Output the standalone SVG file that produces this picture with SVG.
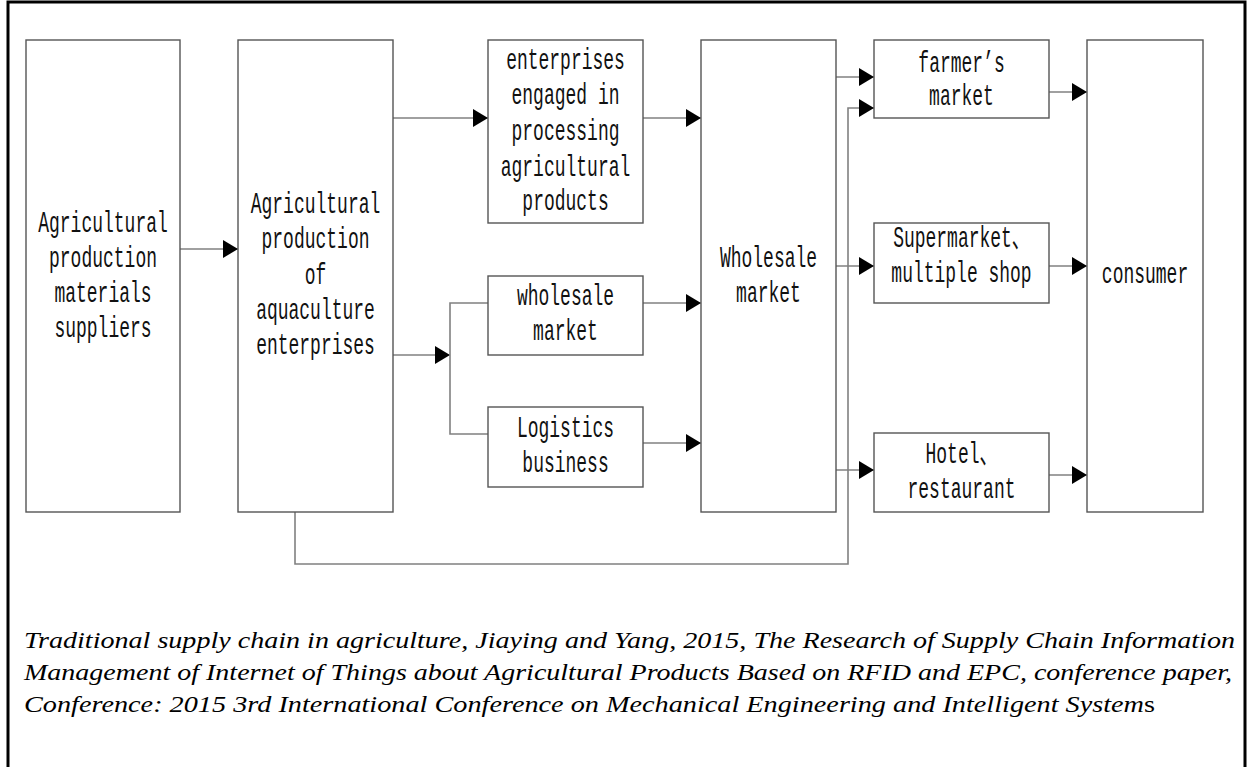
<svg xmlns="http://www.w3.org/2000/svg" width="1252" height="767" viewBox="0 0 1252 767">
<defs>
<marker id="ah" markerUnits="userSpaceOnUse" markerWidth="16" markerHeight="19" refX="15" refY="9" orient="auto">
<path d="M0,0 L15,9 L0,18 Z" fill="#000"/>
</marker>
<style>
.box{fill:#fff;stroke:#555;stroke-width:1.4}
.c{fill:none;stroke:#808080;stroke-width:1.6}
.a{marker-end:url(#ah)}
.t{font-family:"Liberation Mono","Noto Sans CJK SC",monospace;font-size:30px;fill:#111;text-anchor:middle}
.cap{font-family:"Liberation Serif","Times New Roman",serif;font-style:italic;font-size:23px;fill:#000}
</style>
</defs>
<rect width="1252" height="767" fill="#fff"/>
<path d="M8,767 V2 H1245 V767" fill="none" stroke="#000" stroke-width="3"/>

<g id="connectors">
<line class="c a" x1="180" y1="249" x2="238" y2="249"/>
<line class="c a" x1="393" y1="118" x2="488" y2="118"/>
<line class="c a" x1="643" y1="118" x2="701" y2="118"/>
<line class="c a" x1="393" y1="355" x2="450" y2="355"/>
<path class="c" d="M488,303 H450 V434 H488"/>
<line class="c a" x1="643" y1="303" x2="701" y2="303"/>
<line class="c a" x1="643" y1="443" x2="701" y2="443"/>
<line class="c a" x1="836" y1="77" x2="874" y2="77"/>
<path class="c a" d="M295,512 V564 H848 V108 H874"/>
<line class="c a" x1="836" y1="266" x2="874" y2="266"/>
<line class="c a" x1="836" y1="470" x2="874" y2="470"/>
<line class="c a" x1="1049" y1="92" x2="1087" y2="92"/>
<line class="c a" x1="1049" y1="266" x2="1087" y2="266"/>
<line class="c a" x1="1049" y1="475" x2="1087" y2="475"/>
</g>

<g id="suppliers">
<rect class="box" x="26" y="40" width="154" height="472"/>
<text class="t" transform="translate(103 0) scale(0.6 1)"><tspan x="0" y="232">Agricultural</tspan><tspan x="0" y="267">production</tspan><tspan x="0" y="302">materials</tspan><tspan x="0" y="337">suppliers</tspan></text>
</g>
<g id="aquaculture">
<rect class="box" x="238" y="40" width="155" height="472"/>
<text class="t" transform="translate(315.5 0) scale(0.6 1)"><tspan x="0" y="213">Agricultural</tspan><tspan x="0" y="248">production</tspan><tspan x="0" y="284">of</tspan><tspan x="0" y="319">aquaculture</tspan><tspan x="0" y="354">enterprises</tspan></text>
</g>
<g id="processing">
<rect class="box" x="488" y="40" width="155" height="183"/>
<text class="t" transform="translate(565.5 0) scale(0.6 1)"><tspan x="0" y="69">enterprises</tspan><tspan x="0" y="104">engaged in</tspan><tspan x="0" y="140">processing</tspan><tspan x="0" y="176">agricultural</tspan><tspan x="0" y="210">products</tspan></text>
</g>
<g id="wholesale-small">
<rect class="box" x="488" y="276" width="155" height="79"/>
<text class="t" transform="translate(565.5 0) scale(0.6 1)"><tspan x="0" y="305">wholesale</tspan><tspan x="0" y="340">market</tspan></text>
</g>
<g id="logistics">
<rect class="box" x="488" y="407" width="155" height="80"/>
<text class="t" transform="translate(565.5 0) scale(0.6 1)"><tspan x="0" y="437">Logistics</tspan><tspan x="0" y="472">business</tspan></text>
</g>
<g id="wholesale-market">
<rect class="box" x="701" y="40" width="135" height="472"/>
<text class="t" transform="translate(768.5 0) scale(0.6 1)"><tspan x="0" y="267">Wholesale</tspan><tspan x="0" y="302">market</tspan></text>
</g>
<g id="farmers-market">
<rect class="box" x="874" y="40" width="175" height="78"/>
<text class="t" transform="translate(961.5 0) scale(0.6 1)"><tspan x="0" y="72">farmer’s</tspan><tspan x="0" y="105">market</tspan></text>
</g>
<g id="supermarket">
<rect class="box" x="874" y="223" width="175" height="80"/>
<text class="t" transform="translate(961.5 0) scale(0.6 1)"><tspan x="0" y="247">Supermarket、</tspan><tspan x="0" y="282">multiple shop</tspan></text>
</g>
<g id="hotel">
<rect class="box" x="874" y="433" width="175" height="79"/>
<text class="t" transform="translate(961.5 0) scale(0.6 1)"><tspan x="0" y="463">Hotel、</tspan><tspan x="0" y="498">restaurant</tspan></text>
</g>
<g id="consumer">
<rect class="box" x="1087" y="40" width="116" height="472"/>
<text class="t" transform="translate(1145 0) scale(0.6 1)"><tspan x="0" y="283">consumer</tspan></text>
</g>

<g id="caption">
<text class="cap" x="24" y="648" textLength="1211" lengthAdjust="spacingAndGlyphs">Traditional supply chain in agriculture, Jiaying and Yang, 2015, The Research of Supply Chain Information</text>
<text class="cap" x="24" y="680" textLength="1208" lengthAdjust="spacingAndGlyphs">Management of Internet of Things about Agricultural Products Based on RFID and EPC, conference paper,</text>
<text class="cap" x="24" y="712" textLength="1131" lengthAdjust="spacingAndGlyphs">Conference: 2015 3rd International Conference on Mechanical Engineering and Intelligent System<tspan font-style="normal">s</tspan></text>
</g>
</svg>
